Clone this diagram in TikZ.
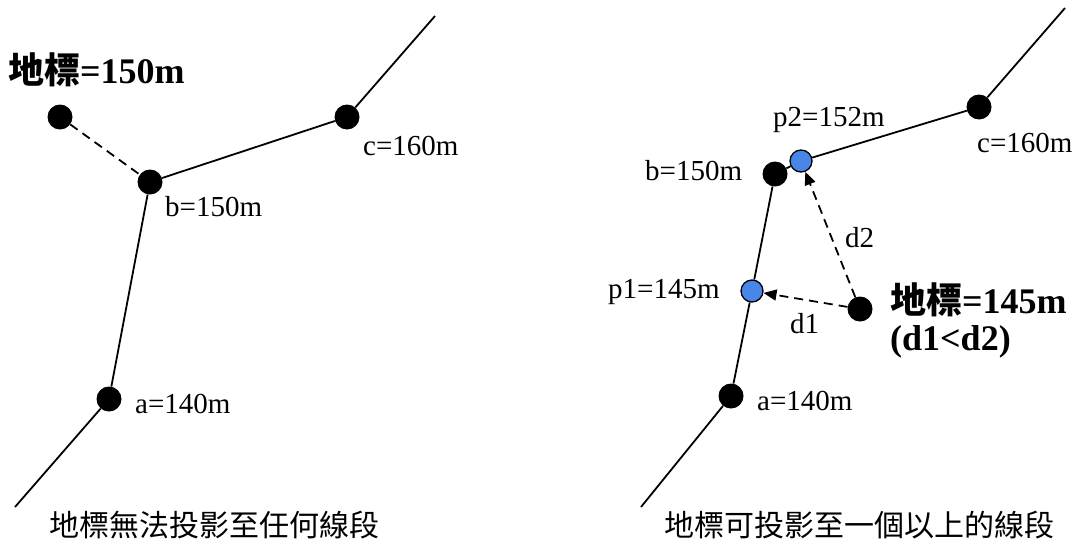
\documentclass[tikz,border=0pt]{standalone}
\usepackage{fontspec}
\setmainfont{Liberation Serif}
\newfontfamily\cjk{Noto Sans CJK TC}
\usetikzlibrary{arrows.meta}
\definecolor{projblue}{RGB}{74,134,232}

\tikzset{
  stop/.style={circle, fill=black, inner sep=0pt, minimum size=25pt},
  proj/.style={circle, draw=black, line width=1.3pt, fill=projblue,
    inner sep=0pt, minimum size=22pt},
  lbl/.style={font=\fontsize{29}{33}\selectfont, inner sep=0pt, anchor=base west},
  biglbl/.style={font=\fontsize{36}{40}\selectfont\bfseries, inner sep=0pt,
    anchor=base west},
  caption/.style={font=\fontsize{30}{34}\selectfont\cjk, inner sep=0pt, anchor=west},
  road/.style={line width=1.8pt},
  guess/.style={line width=1.8pt, dash pattern=on 9pt off 6pt},
}

\begin{document}
\begin{tikzpicture}[x=1pt, y=-1pt, >={Triangle[length=13pt,width=11pt]}]
  \useasboundingbox (0,0) rectangle (1078,557);
  % left: landmark cannot be projected
  \coordinate (lstart) at (15,507);
  \coordinate (lend) at (435,16);
  \node[stop] (la) at (109,399) {};
  \node[stop] (lb) at (150,182) {};
  \node[stop] (lc) at (347,117) {};
  \node[stop] (lm1) at (60,117) {};
  \draw[road] (lstart) -- (la) -- (lb) -- (lc) -- (lend);
  \draw[guess] (lm1) -- (lb);
  \node[biglbl] (lm1lbl) at (8,83) {{\cjk 地標}=150m};
  \node[lbl] (lblb) at (165,216) {b=150m};
  \node[lbl] (lblc) at (363,155) {c=160m};
  \node[lbl] (lbla) at (135,413) {a=140m};
  \node[caption] (cap1) at (49,525) {地標無法投影至任何線段};

  % right: landmark projects onto more than one segment
  \coordinate (rstart) at (641,507);
  \coordinate (rend) at (1065,8);
  \node[stop] (ra) at (731,396) {};
  \node[proj] (p1) at (752,291) {};
  \node[stop] (rb) at (775,174) {};
  \node[proj] (p2) at (801,161) {};
  \node[stop] (rc) at (979,107) {};
  \node[stop] (lm2) at (860,309) {};
  \draw[road] (rstart) -- (ra) -- (p1) -- (rb) -- (p2) -- (rc) -- (rend);
  \draw[guess, ->] (lm2) -- (p1);
  \draw[guess, ->] (lm2) -- (p2);
  \node[lbl] (lblp2) at (773,126) {p2=152m};
  \node[lbl] (rlblb) at (645,180) {b=150m};
  \node[lbl] (rlblc) at (977,152) {c=160m};
  \node[lbl] (lbld2) at (845,247) {d2};
  \node[lbl] (lblp1) at (608,298) {p1=145m};
  \node[lbl] (lbld1) at (790,333) {d1};
  \node[lbl] (rlbla) at (757,410) {a=140m};
  \node[biglbl] (lm2lbl) at (890,313) {{\cjk 地標}=145m};
  \node[biglbl] (lm2cmp) at (890,350) {(d1<d2)};
  \node[caption] (cap2) at (664,525) {地標可投影至一個以上的線段};
\end{tikzpicture}
\end{document}
